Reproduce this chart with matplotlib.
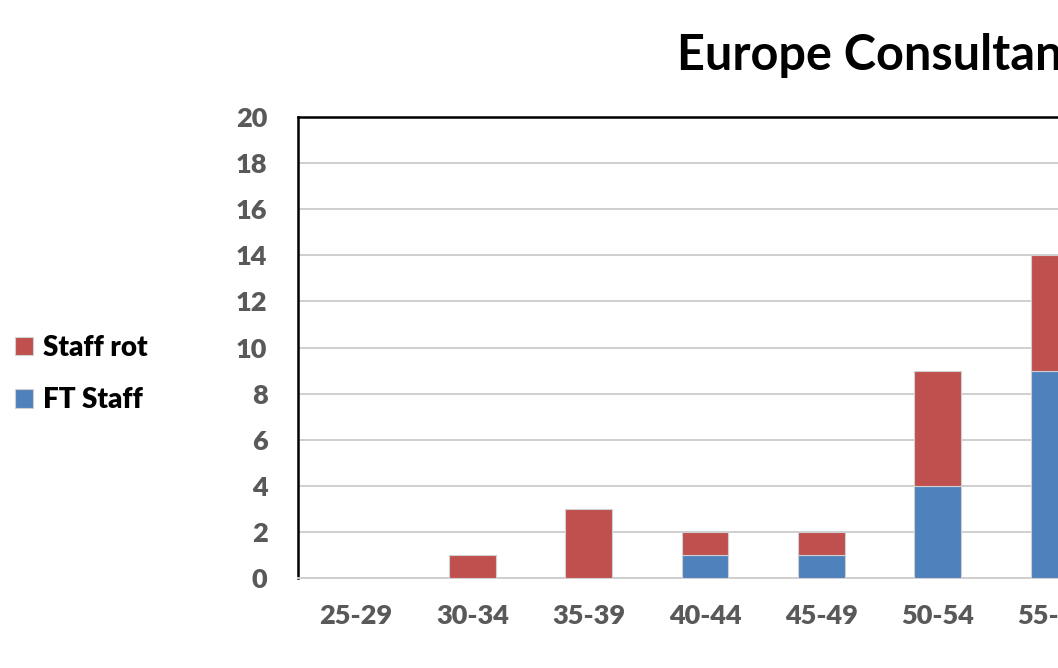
import matplotlib
matplotlib.use('Agg')
import matplotlib.pyplot as plt
import numpy as np

plt.rcParams['font.family'] = ['Lato', 'DejaVu Sans']
plt.rcParams['font.weight'] = 'bold'

# Age bands and head counts per staff type
age_bands = ['25-29', '30-34', '35-39', '40-44', '45-49', '50-54', '55-59']
ft_staff = [0, 0, 0, 1, 1, 4, 9]
staff_rot = [0, 1, 3, 1, 1, 5, 5]

blue = '#4F81BD'
red = '#C0504D'
grid_col = '#CFCFCF'
tick_col = '#595959'

W, H = 1058, 668
fig = plt.figure(figsize=(W / 100, H / 100), dpi=100)

# plot area runs off the right edge of the canvas
cat_px = 116.3
n_slots = 9
ax = fig.add_axes([298 / W, (H - 578) / H, n_slots * cat_px / W, 461 / H])

x = np.arange(len(age_bands))
bw = 0.40
b1 = ax.bar(x, ft_staff, bw, color=blue, edgecolor='#D0D0D0', linewidth=0.8,
            label='FT Staff', zorder=3)
b2 = ax.bar(x, staff_rot, bw, bottom=ft_staff, color=red, edgecolor='#D0D0D0',
            linewidth=0.8, label='Staff rot', zorder=3)

ax.set_xlim(-0.5, n_slots - 0.5)
ax.set_ylim(0, 20)
ax.set_yticks(range(0, 21, 2))
ax.set_xticks(x)
ax.set_xticklabels(age_bands)
ax.yaxis.grid(True, color=grid_col, linewidth=1.4, zorder=0)
ax.set_axisbelow(True)

ax.tick_params(axis='both', length=0, labelsize=19.5, labelcolor=tick_col)
ax.tick_params(axis='y', pad=22)
ax.tick_params(axis='x', pad=19)
for lbl in ax.get_xticklabels() + ax.get_yticklabels():
    lbl.set_fontweight('heavy')

ax.spines['left'].set_color('black')
ax.spines['left'].set_linewidth(1.8)
ax.spines['top'].set_color('black')
ax.spines['top'].set_linewidth(1.8)
ax.spines['bottom'].set_color(grid_col)
ax.spines['bottom'].set_linewidth(1.4)
ax.spines['right'].set_visible(False)

fig.text(677 / W, 1 - 70 / H, 'Europe Consultants Age Profile', ha='left',
         va='baseline', fontsize=35, fontweight='bold', color='black')

fig.legend(handles=[b2, b1], labels=['Staff rot', 'FT Staff'],
           loc='center left', bbox_to_anchor=(15 / W, 1 - 374 / H),
           frameon=False, prop={'weight': 'heavy', 'size': 20},
           handlelength=0.65, handleheight=0.65,
           handletextpad=0.35, labelspacing=0.95, borderpad=0, borderaxespad=0)

fig.savefig('out.png', dpi=100)
